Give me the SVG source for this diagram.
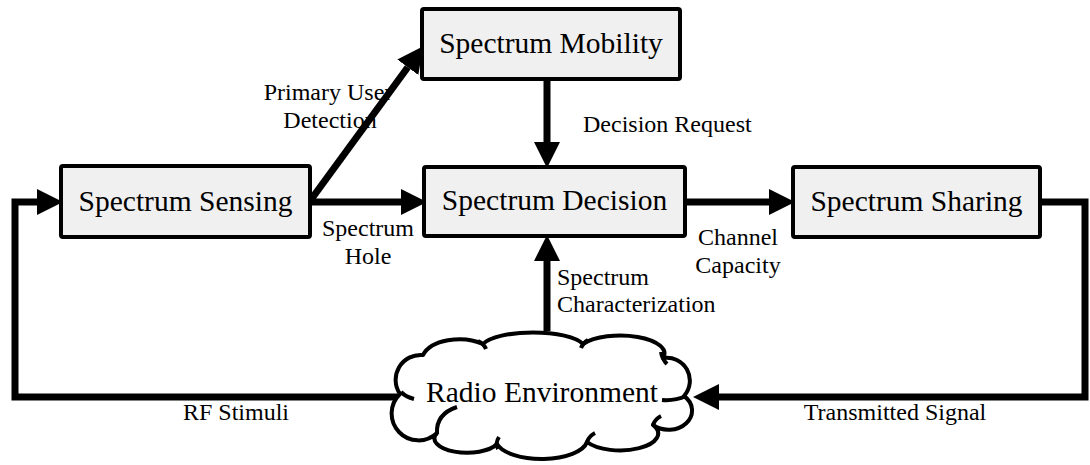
<svg xmlns="http://www.w3.org/2000/svg" width="1090" height="465" viewBox="0 0 1090 465">
<style>
.box{fill:#f0f0f0;stroke:#000;stroke-width:4;stroke-linejoin:round}
.bt{font-family:"Liberation Serif","Times New Roman",serif;font-size:29.5px;fill:#000;text-anchor:middle}
.lt{font-family:"Liberation Serif","Times New Roman",serif;font-size:24px;fill:#000}
.c{text-anchor:middle}
.con{fill:none;stroke:#000;stroke-width:7;stroke-linejoin:miter;stroke-linecap:butt}
.cloud{fill:#fff;stroke:#000;stroke-width:4;stroke-linejoin:round}
.curl{fill:none;stroke:#000;stroke-width:4;stroke-linecap:butt}
</style>
<defs>
<marker id="ah" markerUnits="userSpaceOnUse" markerWidth="26" markerHeight="26" refX="0" refY="12" orient="auto" viewBox="0 0 24 24">
<path d="M0,0 L24,12 L0,24 Z" fill="#000"/>
</marker>
</defs>
<rect width="1090" height="465" fill="#fff"/>

<g id="labels">
<text class="lt c" x="328" y="100">Primary User</text>
<text class="lt c" x="330" y="128">Detection</text>
<text class="lt" x="583" y="132">Decision Request</text>
<text class="lt c" x="368" y="236">Spectrum</text>
<text class="lt c" x="368" y="264">Hole</text>
<text class="lt c" x="738" y="245">Channel</text>
<text class="lt c" x="738" y="273">Capacity</text>
<text class="lt" x="557" y="285">Spectrum</text>
<text class="lt" x="557" y="312">Characterization</text>
<text class="lt c" x="236" y="420">RF Stimuli</text>
<text class="lt c" x="895" y="420">Transmitted Signal</text>
</g>

<g id="connectors">
<path class="con" d="M401 397 H15 V202 H37" marker-end="url(#ah)"/>
<path class="con" d="M310 202 H401" marker-end="url(#ah)"/>
<path class="con" d="M310 201 L407.8 67.3" marker-end="url(#ah)"/>
<path class="con" d="M547 79 V142" marker-end="url(#ah)"/>
<path class="con" d="M547 331 V261" marker-end="url(#ah)"/>
<path class="con" d="M685 202 H769" marker-end="url(#ah)"/>
<path class="con" d="M1040 202 H1085 V397 H719" marker-end="url(#ah)"/>
</g>

<g id="node-sensing">
<rect class="box" x="61" y="166" width="249" height="71" rx="2"/>
<text class="bt" x="185.5" y="211">Spectrum Sensing</text>
</g>
<g id="node-mobility">
<rect class="box" x="422" y="9" width="258" height="70" rx="2"/>
<text class="bt" x="551" y="53">Spectrum Mobility</text>
</g>
<g id="node-decision">
<rect class="box" x="424" y="167" width="261" height="69" rx="2"/>
<text class="bt" x="554.5" y="210">Spectrum Decision</text>
</g>
<g id="node-sharing">
<rect class="box" x="793" y="167" width="247" height="70" rx="2"/>
<text class="bt" x="916.5" y="211">Spectrum Sharing</text>
</g>
<g id="node-environment">
<path class="cloud" d="M400 394 A25 25 0 0 1 423 355 A38 22 0 0 1 483 344 A52 16 0 0 1 583 344 A44 18 0 0 1 663 358 A23 23 0 0 1 684 396 A22 18 0 0 1 653 425 A36 16 0 0 1 587 442 A46 20 0 0 1 497 444 A32 14 0 0 1 437 433 A25 25 0 0 1 400 394 Z"/>
<path class="curl" d="M401 392 Q406 397 414 399"/>
<path class="curl" d="M437 433 Q436 414 457 407"/>
<path class="curl" d="M478 341 Q484 344 486 349"/>
<path class="curl" d="M588 340 Q583 343 581 348"/>
<path class="curl" d="M661 352 Q662 359 667 364"/>
<path class="curl" d="M662 400 Q675 401 686 396"/>
<path class="curl" d="M653 425 Q655 419 661 416"/>
<path class="curl" d="M587 442 Q589 436 595 433"/>
<path class="curl" d="M498 449 Q495 443 499 437"/>
<text class="bt" x="542" y="402">Radio Environment</text>
</g>
</svg>
